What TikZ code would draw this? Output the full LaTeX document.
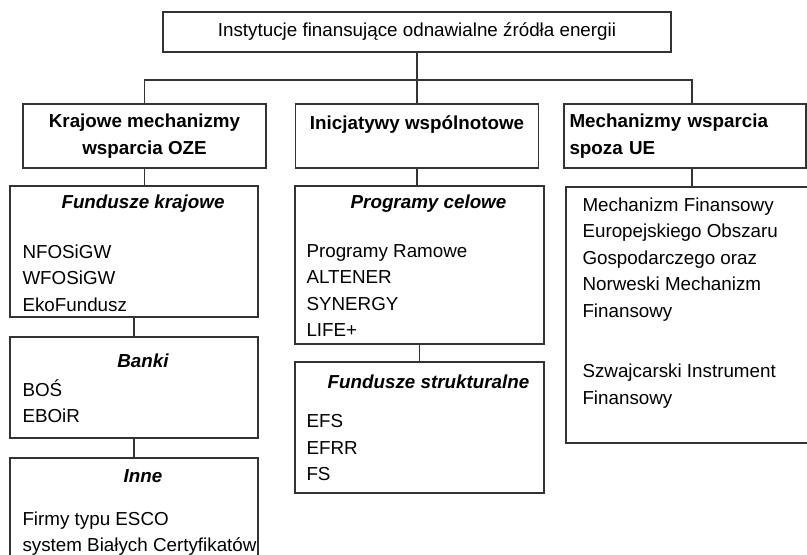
\documentclass[tikz,border=0pt]{standalone}
\usepackage{fontspec}
\setmainfont{Liberation Sans}
\usetikzlibrary{positioning, calc}

\begin{document}
\begin{tikzpicture}[
  x=0.5pt, y=-0.5pt,
  every node/.style={font=\fontsize{9.4pt}{13.25pt}\selectfont},
  box/.style={draw=black!80, line width=0.9pt, rectangle, inner sep=0pt},
  head/.style={box, font=\fontsize{9.4pt}{13.5pt}\selectfont\bfseries, align=center},
  title/.style={font=\fontsize{9.4pt}{13.25pt}\selectfont\bfseries\itshape, inner sep=0pt},
  list/.style={anchor=north west, align=left, inner sep=0pt},
  link/.style={draw=black!80, line width=0.9pt}
]
  \clip (0,0) rectangle (807,554);

  % Root
  \node[box, minimum width=254pt, minimum height=20pt] (root) at (417,32) {Instytucje finansujące odnawialne źródła energii};

  % Three groups
  \node[head, minimum width=121.5pt, minimum height=32pt] (krajowe) at (144.5,136) {Krajowe mechanizmy\\wsparcia OZE};
  \node[head, minimum width=121.5pt, minimum height=32pt] (wspolnotowe) at (417,136) {Inicjatywy wspólnotowe\\\mbox{}};
  \node[head, align=left, inner xsep=2.75pt, text width=115.5pt, minimum width=121pt, minimum height=32pt] (spoza) at (685,136) {Mechanizmy wsparcia\\spoza UE};

  \draw[link] (root.south) -- ++(0,27) coordinate (bus);
  \draw[link] (krajowe.north) |- (bus) -| ([xshift=3.5pt]spoza.north);
  \draw[link] (wspolnotowe.north |- bus) -- (wspolnotowe.north);

  % Krajowe mechanizmy
  \node[box, minimum width=124pt, minimum height=65.5pt] (fundusze) at (134,251.5) {};
  \node[title] at ([xshift=4.5pt, yshift=-9.5pt]fundusze.north) {Fundusze krajowe};
  \node[list] at ([xshift=6.5pt, yshift=-29.5pt]fundusze.north west) {NFOSiGW\\WFOSiGW\\EkoFundusz};

  \node[box, minimum width=124pt, minimum height=50.5pt] (banki) at (134,387.5) {};
  \node[title] at ([xshift=4.5pt, yshift=-12.5pt]banki.north) {Banki};
  \node[list] at ([xshift=6.5pt, yshift=-21.5pt]banki.north west) {BOŚ\\EBOiR};

  \node[box, minimum width=124pt, minimum height=58.5pt] (inne) at (134,516.5) {};
  \node[title] at ([xshift=4.5pt, yshift=-9.5pt]inne.north) {Inne};
  \node[list] at ([xshift=6.5pt, yshift=-27pt]inne.north west) {Firmy typu ESCO\\system Białych Certyfikatów};

  \draw[link] (krajowe.south) -- (krajowe.south |- fundusze.north);
  \draw[link] (fundusze.south) -- (banki.north);
  \draw[link] (banki.south) -- (inne.north);

  % Inicjatywy wspolnotowe
  \node[box, minimum width=124.5pt, minimum height=79pt] (programy) at (419.5,265) {};
  \node[title] at ([xshift=4.5pt, yshift=-9.5pt]programy.north) {Programy celowe};
  \node[list] at ([xshift=6pt, yshift=-29.5pt]programy.north west) {Programy Ramowe\\ALTENER\\SYNERGY\\LIFE+};

  \node[box, minimum width=124.5pt, minimum height=65.5pt] (strukturalne) at (419.5,427.5) {};
  \node[title] at ([xshift=4.5pt, yshift=-10.5pt]strukturalne.north) {Fundusze strukturalne};
  \node[list] at ([xshift=6pt, yshift=-26.5pt]strukturalne.north west) {EFS\\EFRR\\FS};

  \draw[link] (wspolnotowe.south) -- (wspolnotowe.south |- programy.north);
  \draw[link] (programy.south) -- (strukturalne.north);

  % Spoza UE
  \node[box, minimum width=127pt, minimum height=128pt] (mechanizmy) at (693,315) {};
  \node[list] at ([xshift=8.5pt, yshift=-5.5pt]mechanizmy.north west) {Mechanizm Finansowy\\Europejskiego Obszaru\\Gospodarczego oraz\\Norweski Mechanizm\\Finansowy\\[17pt]Szwajcarski Instrument\\Finansowy};

  \draw[link] ([xshift=3.5pt]spoza.south) -- ([xshift=3.5pt]spoza.south |- mechanizmy.north);
\end{tikzpicture}
\end{document}
